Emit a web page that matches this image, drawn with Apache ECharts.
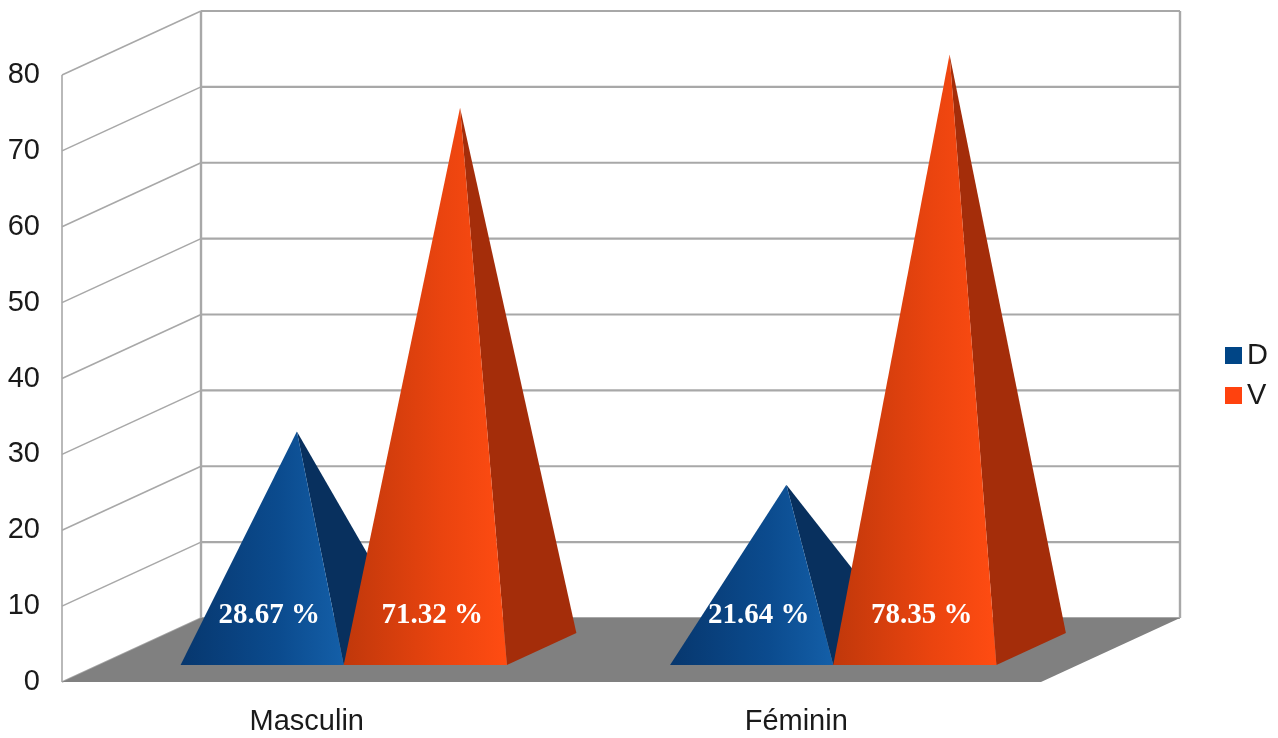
<!DOCTYPE html>
<html>
<head>
<meta charset="utf-8">
<script src="https://cdn.jsdelivr.net/npm/echarts@6/dist/echarts.min.js"></script>
<style>
  html, body { margin: 0; padding: 0; background: #ffffff; }
  #chart { width: 1278px; height: 738px; }
</style>
</head>
<body>
<div id="chart"></div>
<script>
// ---- data ----
const categories = ['Masculin', 'Féminin'];
const seriesNames = ['D', 'V'];
const valuesD = [28.67, 21.64];
const valuesV = [71.32, 78.35];
const yTicks = [0, 10, 20, 30, 40, 50, 60, 70, 80];

// ---- style / projection constants ----
const DEPTH = [139, -64];          // screen offset of full depth (front -> back wall)
const T0 = 0.266, T1 = 0.766, TC = (T0 + T1) / 2;
const GRID_COLOR = '#a8a8a8';
const FONT = '"Liberation Sans", Arial, sans-serif';

const palette = {
  D: { front: ['#07376e', '#0b4b8e', '#145fa8'], side: '#08305e', legend: '#004586' },
  V: { front: ['#c0380b', '#ea440f', '#ff4c12'], side: '#a42d0a', legend: '#ff420e' }
};

function off(p, t) { return [p[0] + DEPTH[0] * t, p[1] + DEPTH[1] * t]; }

function wallsRender(params, api) {
  const cs = params.coordSys;
  const v = api.value(0);
  const y = api.coord([0, v])[1];
  const xl = cs.x, xr = cs.x + cs.width;
  const front = [xl, y];
  const back = off(front, 1);
  const backR = off([xr, y], 1);
  const children = [
    { type: 'line', shape: { x1: front[0], y1: front[1], x2: back[0], y2: back[1] },
      style: { stroke: GRID_COLOR, lineWidth: 1.6 } },
    { type: 'line', shape: { x1: back[0], y1: back[1], x2: backR[0], y2: backR[1] },
      style: { stroke: GRID_COLOR, lineWidth: 2.2 } }
  ];
  if (params.dataIndex === 0) {
    const yTop = cs.y, yBot = cs.y + cs.height;
    const bl = off([xl, yBot], 1), tl = off([xl, yTop], 1);
    const br = off([xr, yBot], 1), tr = off([xr, yTop], 1);
    children.push(
      { type: 'line', shape: { x1: xl, y1: yTop, x2: xl, y2: yBot }, style: { stroke: GRID_COLOR, lineWidth: 1.6 } },
      { type: 'line', shape: { x1: tl[0], y1: tl[1], x2: bl[0], y2: bl[1] }, style: { stroke: GRID_COLOR, lineWidth: 2.4 } },
      { type: 'line', shape: { x1: tr[0], y1: tr[1], x2: br[0], y2: br[1] }, style: { stroke: GRID_COLOR, lineWidth: 2.4 } }
    );
  }
  return { type: 'group', children: children };
}

function floorRender(params, api) {
  const cs = params.coordSys;
  const yBot = api.coord([0, 0])[1];
  const xl = cs.x, xr = cs.x + cs.width;
  const pts = [[xl, yBot], [xr, yBot], off([xr, yBot], 1), off([xl, yBot], 1)];
  return { type: 'polygon', shape: { points: pts }, style: { fill: '#808080' } };
}

function pyramidRender(name) {
  const pal = palette[name];
  const shift = name === 'D' ? -1 : 0;
  return function (params, api) {
    const cat = api.value(0), v = api.value(1);
    const base = api.coord([cat, 0]);
    const top = api.coord([cat, v]);
    const band = api.size([1, 0])[0];
    const w = band / 3;
    const x0 = base[0] + shift * w;
    const FL = off([x0, base[1]], T0);
    const FR = off([x0 + w, base[1]], T0);
    const BR = off([x0 + w, base[1]], T1);
    const apex = off([x0 + w / 2, top[1]], TC);
    const label = v.toFixed(2) + ' %';
    return {
      type: 'group',
      children: [
        { type: 'polygon', shape: { points: [FR, BR, apex] }, style: { fill: pal.side } },
        { type: 'polygon', shape: { points: [FL, FR, apex] },
          style: { fill: { type: 'linear', x: 0, y: 0, x2: 1, y2: 0,
            colorStops: [ { offset: 0, color: pal.front[0] }, { offset: 0.6, color: pal.front[1] }, { offset: 1, color: pal.front[2] } ] } } },
        { type: 'text', style: { text: label, x: (FL[0] + FR[0]) / 2 + 7, y: FL[1] - 49,
            fill: '#ffffff', font: 'bold 29px "Liberation Serif", "DejaVu Serif", serif',
            align: 'center', verticalAlign: 'middle' } }
      ]
    };
  };
}

const chart = echarts.init(document.getElementById('chart'), null, { renderer: 'canvas' });
chart.setOption({
  backgroundColor: '#ffffff',
  animation: false,
  grid: { left: 62, right: 237, top: 75, bottom: 56 },
  legend: {
    data: seriesNames,
    orient: 'vertical',
    left: 1220, top: 336,
    icon: 'rect', itemWidth: 17, itemHeight: 17, itemGap: 11,
    textStyle: { fontSize: 29, color: '#1a1a1a', fontFamily: FONT, padding: [0, 0, 0, 0] }
  },
  xAxis: {
    type: 'category', data: categories,
    axisLine: { show: false }, axisTick: { show: false }, splitLine: { show: false },
    axisLabel: { fontSize: 29, color: '#1a1a1a', fontFamily: FONT, margin: 25 }
  },
  yAxis: {
    type: 'value', min: 0, max: 80, interval: 10,
    axisLine: { show: false }, axisTick: { show: false }, splitLine: { show: false },
    axisLabel: { fontSize: 29, color: '#1a1a1a', fontFamily: FONT, margin: 22 }
  },
  series: [
    { type: 'custom', name: 'walls', z: 1, silent: true, renderItem: wallsRender,
      data: yTicks.map(v => [v]), encode: { y: 0 } },
    { type: 'custom', name: 'floor', z: 2, silent: true, renderItem: floorRender, data: [[0]] },
    { type: 'custom', name: 'D', z: 3, renderItem: pyramidRender('D'),
      itemStyle: { color: palette.D.legend },
      data: valuesD.map((v, i) => [i, v]), encode: { x: 0, y: 1 } },
    { type: 'custom', name: 'V', z: 4, renderItem: pyramidRender('V'),
      itemStyle: { color: palette.V.legend },
      data: valuesV.map((v, i) => [i, v]), encode: { x: 0, y: 1 } }
  ]
});
</script>
</body>
</html>
